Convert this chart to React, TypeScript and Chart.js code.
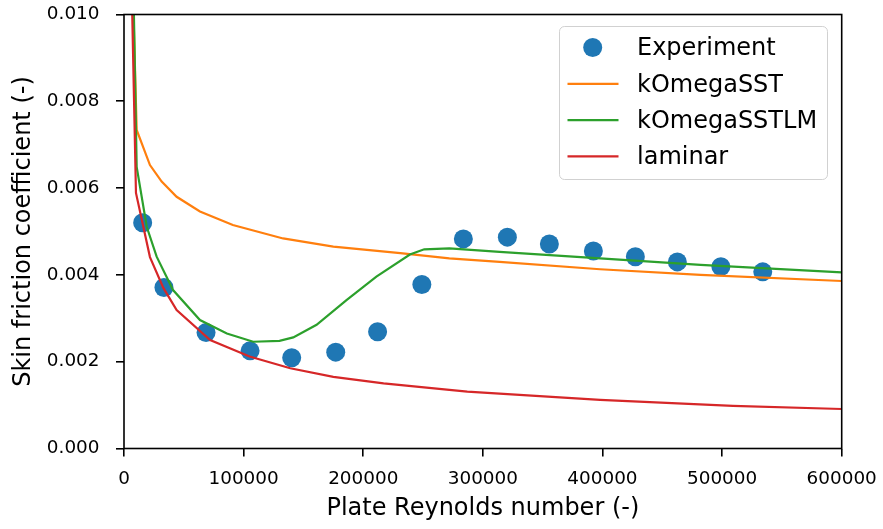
import React, { useEffect, useRef } from "react";
import { Chart, registerables } from "chart.js";

Chart.register(...registerables);

// Experiment (scatter)
const expRe = [15600, 33400, 68600, 105400, 140200, 177000, 212000, 249000, 283700, 320500, 355600, 392400, 427500, 462600, 499000, 534000];
const expCf = [0.0052, 0.00371, 0.00267, 0.00225, 0.00209, 0.00222, 0.00269, 0.00378, 0.00483, 0.00487, 0.00471, 0.00455, 0.00442, 0.0043, 0.00419, 0.00407];

// kOmegaSST
const sstRe = [5000, 10600, 21700, 31500, 44000, 63500, 91000, 133000, 175000, 231000, 272000, 314000, 398000, 482000, 600000];
const sstCf = [0.013, 0.00734, 0.00653, 0.00615, 0.0058, 0.00546, 0.00515, 0.00484, 0.00465, 0.0045, 0.00438, 0.0043, 0.00413, 0.004, 0.00386];

// kOmegaSSTLM
const lmRe = [5000, 10600, 19000, 27300, 41000, 63500, 86000, 108000, 130000, 141500, 161000, 186000, 211000, 239000, 251000, 272000, 314000, 398000, 482000, 600000];
const lmCf = [0.015, 0.00649, 0.00511, 0.00442, 0.00365, 0.00296, 0.00265, 0.00246, 0.00248, 0.00256, 0.00285, 0.00342, 0.00396, 0.00447, 0.00459, 0.00461, 0.00453, 0.00438, 0.00423, 0.00406];

// laminar
const lamRe = [5000, 10000, 21700, 32900, 44000, 72000, 105000, 139000, 175000, 217000, 272000, 287000, 398000, 509000, 600000];
const lamCf = [0.0125, 0.00589, 0.00441, 0.0037, 0.00319, 0.0025, 0.00212, 0.00185, 0.00165, 0.0015, 0.00135, 0.00131, 0.00112, 0.00098, 0.00091];

const labels = ["Experiment", "kOmegaSST", "kOmegaSSTLM", "laminar"];
const colors = ["#1f77b4", "#ff7f0e", "#2ca02c", "#d62728"];

const yTicks = [0, 0.002, 0.004, 0.006, 0.008, 0.01];
const xTicks = [0, 100000, 200000, 300000, 400000, 500000, 600000];

const FONT = "'DejaVu Sans', 'Liberation Sans', sans-serif";

const pts = (xs: number[], ys: number[]) => xs.map((x, i) => ({ x, y: ys[i] }));

const framePlugin = {
  id: "frame",
  afterDatasetsDraw(chart: any) {
    const { ctx, chartArea } = chart;
    ctx.save();
    ctx.strokeStyle = "#000";
    ctx.lineWidth = 1.6;
    ctx.strokeRect(chartArea.left, chartArea.top, chartArea.right - chartArea.left, chartArea.bottom - chartArea.top);
    ctx.restore();
  },
};

const legendPlugin = {
  id: "customLegend",
  afterDraw(chart: any) {
    const { ctx } = chart;
    const ds = chart.data.datasets;
    const bx = 559.5, by = 26.5, bw = 268, bh = 153;
    ctx.save();
    ctx.beginPath();
    ctx.roundRect(bx, by, bw, bh, 5);
    ctx.fillStyle = "rgba(255,255,255,0.8)";
    ctx.fill();
    ctx.strokeStyle = "rgba(204,204,204,0.9)";
    ctx.lineWidth = 1;
    ctx.stroke();
    ds.forEach((d: any, i: number) => {
      const cy = 47.5 + i * 36.3;
      if (d.showLine) {
        ctx.beginPath();
        ctx.moveTo(567.5, cy);
        ctx.lineTo(618.5, cy);
        ctx.strokeStyle = d.borderColor;
        ctx.lineWidth = 2.2;
        ctx.stroke();
      } else {
        ctx.beginPath();
        ctx.arc(592.7, cy, 9.5, 0, Math.PI * 2);
        ctx.fillStyle = d.backgroundColor;
        ctx.fill();
      }
      ctx.fillStyle = "#000";
      ctx.font = `24px ${FONT}`;
      ctx.textBaseline = "alphabetic";
      ctx.textAlign = "left";
      ctx.fillText(d.label, 637, cy + 7.8);
    });
    ctx.restore();
  },
};

const zeroPad = (s: any) => {
  s.paddingTop = 0;
  s.paddingBottom = 0;
  s.paddingLeft = 0;
  s.paddingRight = 0;
};

export default function App() {
  const ref = useRef<HTMLCanvasElement | null>(null);

  useEffect(() => {
    if (!ref.current) return;
    const lineDs = (i: number, xs: number[], ys: number[], order: number) => ({
      label: labels[i],
      data: pts(xs, ys),
      showLine: true,
      borderColor: colors[i],
      backgroundColor: colors[i],
      borderWidth: 2.2,
      pointRadius: 0,
      pointHoverRadius: 0,
      tension: 0,
      clip: 0,
      order,
    });
    const chart = new Chart(ref.current, {
      type: "scatter",
      data: {
        datasets: [
          {
            label: labels[0],
            data: pts(expRe, expCf),
            showLine: false,
            backgroundColor: colors[0],
            borderColor: colors[0],
            borderWidth: 0,
            pointRadius: 9.5,
            order: 4,
          } as any,
          lineDs(1, sstRe, sstCf, 3),
          lineDs(2, lmRe, lmCf, 2),
          lineDs(3, lamRe, lamCf, 1),
        ],
      },
      options: {
        animation: false,
        responsive: false,
        devicePixelRatio: 1,
        layout: { padding: { top: 14.5, right: 41.3, left: 0, bottom: 0 } },
        plugins: { legend: { display: false }, tooltip: { enabled: false } },
        events: [],
        scales: {
          x: {
            type: "linear",
            min: 0,
            max: 600000,
            afterFit: (s: any) => { s.height = 80.5; zeroPad(s); },
            afterBuildTicks: (s: any) => { s.ticks = xTicks.map((v) => ({ value: v })); },
            ticks: {
              autoSkip: false,
              maxRotation: 0,
              padding: 12,
              color: "#000",
              font: { family: FONT, size: 18.4 },
              callback: (v: any) => String(v),
            },
            grid: { drawOnChartArea: false, drawTicks: true, tickLength: 8, color: "#000", lineWidth: 1.6 },
            border: { display: false },
            title: {
              display: true,
              text: "Plate Reynolds number (-)",
              color: "#000",
              font: { family: FONT, size: 24, lineHeight: 1.2 },
              padding: { top: 0, bottom: 6 },
            },
          },
          y: {
            type: "linear",
            min: 0,
            max: 0.01,
            afterFit: (s: any) => { s.width = 124; zeroPad(s); },
            afterBuildTicks: (s: any) => { s.ticks = yTicks.map((v) => ({ value: v })); },
            ticks: {
              autoSkip: false,
              padding: 16.5,
              color: "#000",
              font: { family: FONT, size: 18.4 },
              callback: (v: any) => Number(v).toFixed(3),
            },
            grid: { drawOnChartArea: false, drawTicks: true, tickLength: 8, color: "#000", lineWidth: 1.6 },
            border: { display: false },
            title: {
              display: true,
              text: "Skin friction coefficient (-)",
              color: "#000",
              font: { family: FONT, size: 24, lineHeight: 1.2 },
              padding: { top: 9, bottom: 0 },
            },
          },
        },
      },
      plugins: [framePlugin, legendPlugin],
    } as any);
    return () => chart.destroy();
  }, []);

  return (
    <div style={{ position: "absolute", left: 0, top: 0, width: 883, height: 529, background: "#fff" }}>
      <canvas ref={ref} width={883} height={529} style={{ display: "block" }} />
    </div>
  );
}
